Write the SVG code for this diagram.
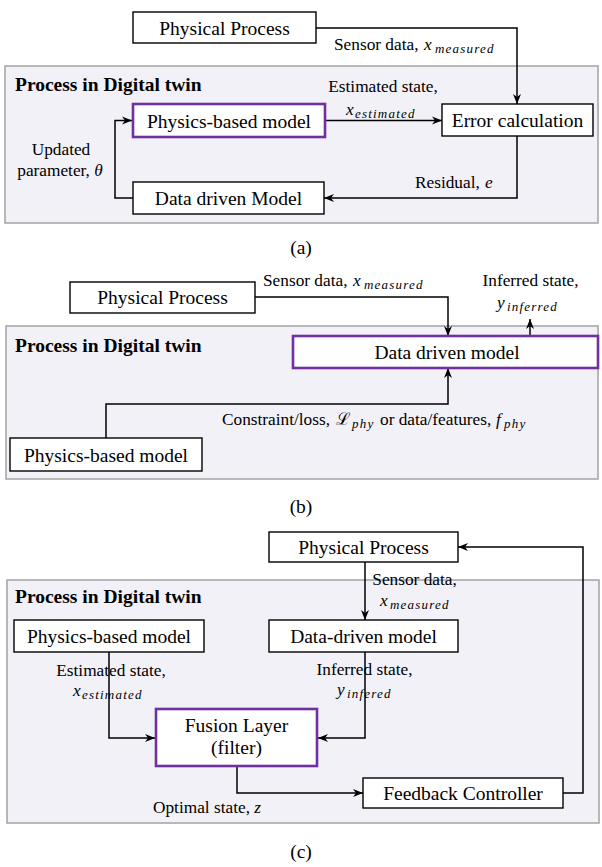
<svg xmlns="http://www.w3.org/2000/svg" width="602" height="867" viewBox="0 0 602 867" font-family="'Liberation Serif', 'Times New Roman', Times, 'DejaVu Serif', serif">
<style>
text{font-family:'Liberation Serif','Times New Roman',Times,'Noto Serif','DejaVu Serif',serif;fill:#000}
.n{font-size:19.5px}
.c{text-anchor:middle}
.t{font-size:19.5px;font-weight:bold}
.l{font-size:17.3px}
.i{font-style:italic}
.s{font-size:13px;font-style:italic;letter-spacing:1.2px}
.panel{fill:#F3F1F8;stroke:#A3A3A3;stroke-width:1.5}
.box{fill:#fff;stroke:#000;stroke-width:1.4}
.pbox{fill:#fff;stroke:#7030A0;stroke-width:2.6}
.cn path{fill:none;stroke:#000;stroke-width:1.5;marker-end:url(#ah)}
</style>
<defs>
<marker id="ah" viewBox="0 0 10 10" refX="10" refY="5" markerWidth="10" markerHeight="10" markerUnits="userSpaceOnUse" orient="auto">
<path d="M0,1 L10,5 L0,9 L3,5 z" fill="#000"/>
</marker>
</defs>

<!-- panels -->
<g id="panel-a"><rect class="panel" x="5" y="66" width="593" height="157"/><text class="t" x="15" y="91">Process in Digital twin</text></g>
<g id="panel-b"><rect class="panel" x="6" y="326" width="592" height="153"/><text class="t" x="15" y="352">Process in Digital twin</text></g>
<g id="panel-c"><rect class="panel" x="7" y="580" width="592" height="243"/><text class="t" x="15" y="603">Process in Digital twin</text></g>

<!-- connectors -->
<g id="connectors" class="cn">
<path d="M316,28 H517 V104"/>
<path d="M325,120.5 H442"/>
<path d="M517,136 V198 H324"/>
<path d="M133,198 H115 V120.5 H132"/>
<path d="M255,297 H448 V336"/>
<path d="M106,438 V404 H448 V368"/>
<path d="M530,336 V319"/>
<path d="M365,562 V620"/>
<path d="M109,652 V738 H155"/>
<path d="M365,652 V738 H318"/>
<path d="M237,766 V793 H363"/>
<path d="M563,793 H583 V547 H458"/>
</g>

<!-- (a) nodes -->
<g id="a-physical-process"><rect class="box" x="133" y="12" width="183" height="31"/><text class="n c" x="224.5" y="34.5">Physical Process</text></g>
<g id="a-physics-model"><rect class="pbox" x="133" y="104" width="192" height="33"/><text class="n c" x="229" y="127.5">Physics-based model</text></g>
<g id="a-error"><rect class="box" x="442" y="104" width="151" height="32"/><text class="n c" x="517.5" y="127">Error calculation</text></g>
<g id="a-data-model"><rect class="box" x="133" y="182" width="191" height="32"/><text class="n c" x="228.5" y="205">Data driven Model</text></g>

<!-- (a) labels -->
<g id="a-labels">
<text class="l" x="334" y="50">Sensor data,<tspan class="i" x="424">x</tspan><tspan class="s" x="435" y="53">measured</tspan></text>
<text class="l c" x="383" y="92">Estimated state,</text>
<text class="l" x="346" y="115"><tspan class="i">x</tspan><tspan class="s" x="355" y="118">estimated</tspan></text>
<text class="l" x="415" y="188">Residual,<tspan class="i" x="485">e</tspan></text>
<text class="l c" x="61" y="155">Updated</text>
<text class="l c" x="60" y="176">parameter, <tspan class="i">θ</tspan></text>
<text class="n c" x="301" y="254">(a)</text>
</g>

<!-- (b) nodes -->
<g id="b-physical-process"><rect class="box" x="70" y="282" width="185" height="31"/><text class="n c" x="162.5" y="304">Physical Process</text></g>
<g id="b-data-model"><rect class="pbox" x="293" y="336" width="305" height="32"/><text class="n c" x="447" y="359">Data driven model</text></g>
<g id="b-physics-model"><rect class="box" x="10" y="438" width="192" height="33"/><text class="n c" x="106" y="461.5">Physics-based model</text></g>

<!-- (b) labels -->
<g id="b-labels">
<text class="l" x="263" y="286">Sensor data,<tspan class="i" x="353">x</tspan><tspan class="s" x="364" y="289">measured</tspan></text>
<text class="l c" x="530.5" y="286">Inferred state,</text>
<text class="l" x="497" y="308"><tspan class="i">y</tspan><tspan class="s" x="507" y="311">inferred</tspan></text>
<text class="l" x="222" y="425">Constraint/loss,<tspan class="i" x="336">ℒ</tspan><tspan class="s" x="352" y="428">phy</tspan><tspan x="380" y="425">or data/features,</tspan><tspan class="i" x="496">f</tspan><tspan class="s" x="504" y="428">phy</tspan></text>
<text class="n c" x="301" y="513">(b)</text>
</g>

<!-- (c) nodes -->
<g id="c-physical-process"><rect class="box" x="269" y="532" width="189" height="30"/><text class="n c" x="363.5" y="554">Physical Process</text></g>
<g id="c-physics-model"><rect class="box" x="14" y="620" width="190" height="32"/><text class="n c" x="109" y="643">Physics-based model</text></g>
<g id="c-data-model"><rect class="box" x="269" y="620" width="189" height="32"/><text class="n c" x="363.5" y="643">Data-driven model</text></g>
<g id="c-fusion"><rect class="pbox" x="156" y="709" width="161" height="57"/><text class="n c" x="236.5" y="732">Fusion Layer</text><text class="n c" x="236.5" y="754">(filter)</text></g>
<g id="c-feedback"><rect class="box" x="363" y="778" width="200" height="30"/><text class="n c" x="463" y="800">Feedback Controller</text></g>

<!-- (c) labels -->
<g id="c-labels">
<text class="l c" x="414.5" y="585">Sensor data,</text>
<text class="l" x="380" y="606"><tspan class="i">x</tspan><tspan class="s" x="390" y="609">measured</tspan></text>
<text class="l c" x="111" y="676">Estimated state,</text>
<text class="l" x="73" y="696"><tspan class="i">x</tspan><tspan class="s" x="82" y="699">estimated</tspan></text>
<text class="l c" x="364.5" y="675">Inferred state,</text>
<text class="l" x="337" y="695"><tspan class="i">y</tspan><tspan class="s" x="347" y="698">infered</tspan></text>
<text class="l" x="153" y="813">Optimal state, <tspan class="i">z</tspan></text>
<text class="n c" x="301" y="858">(c)</text>
</g>
</svg>
